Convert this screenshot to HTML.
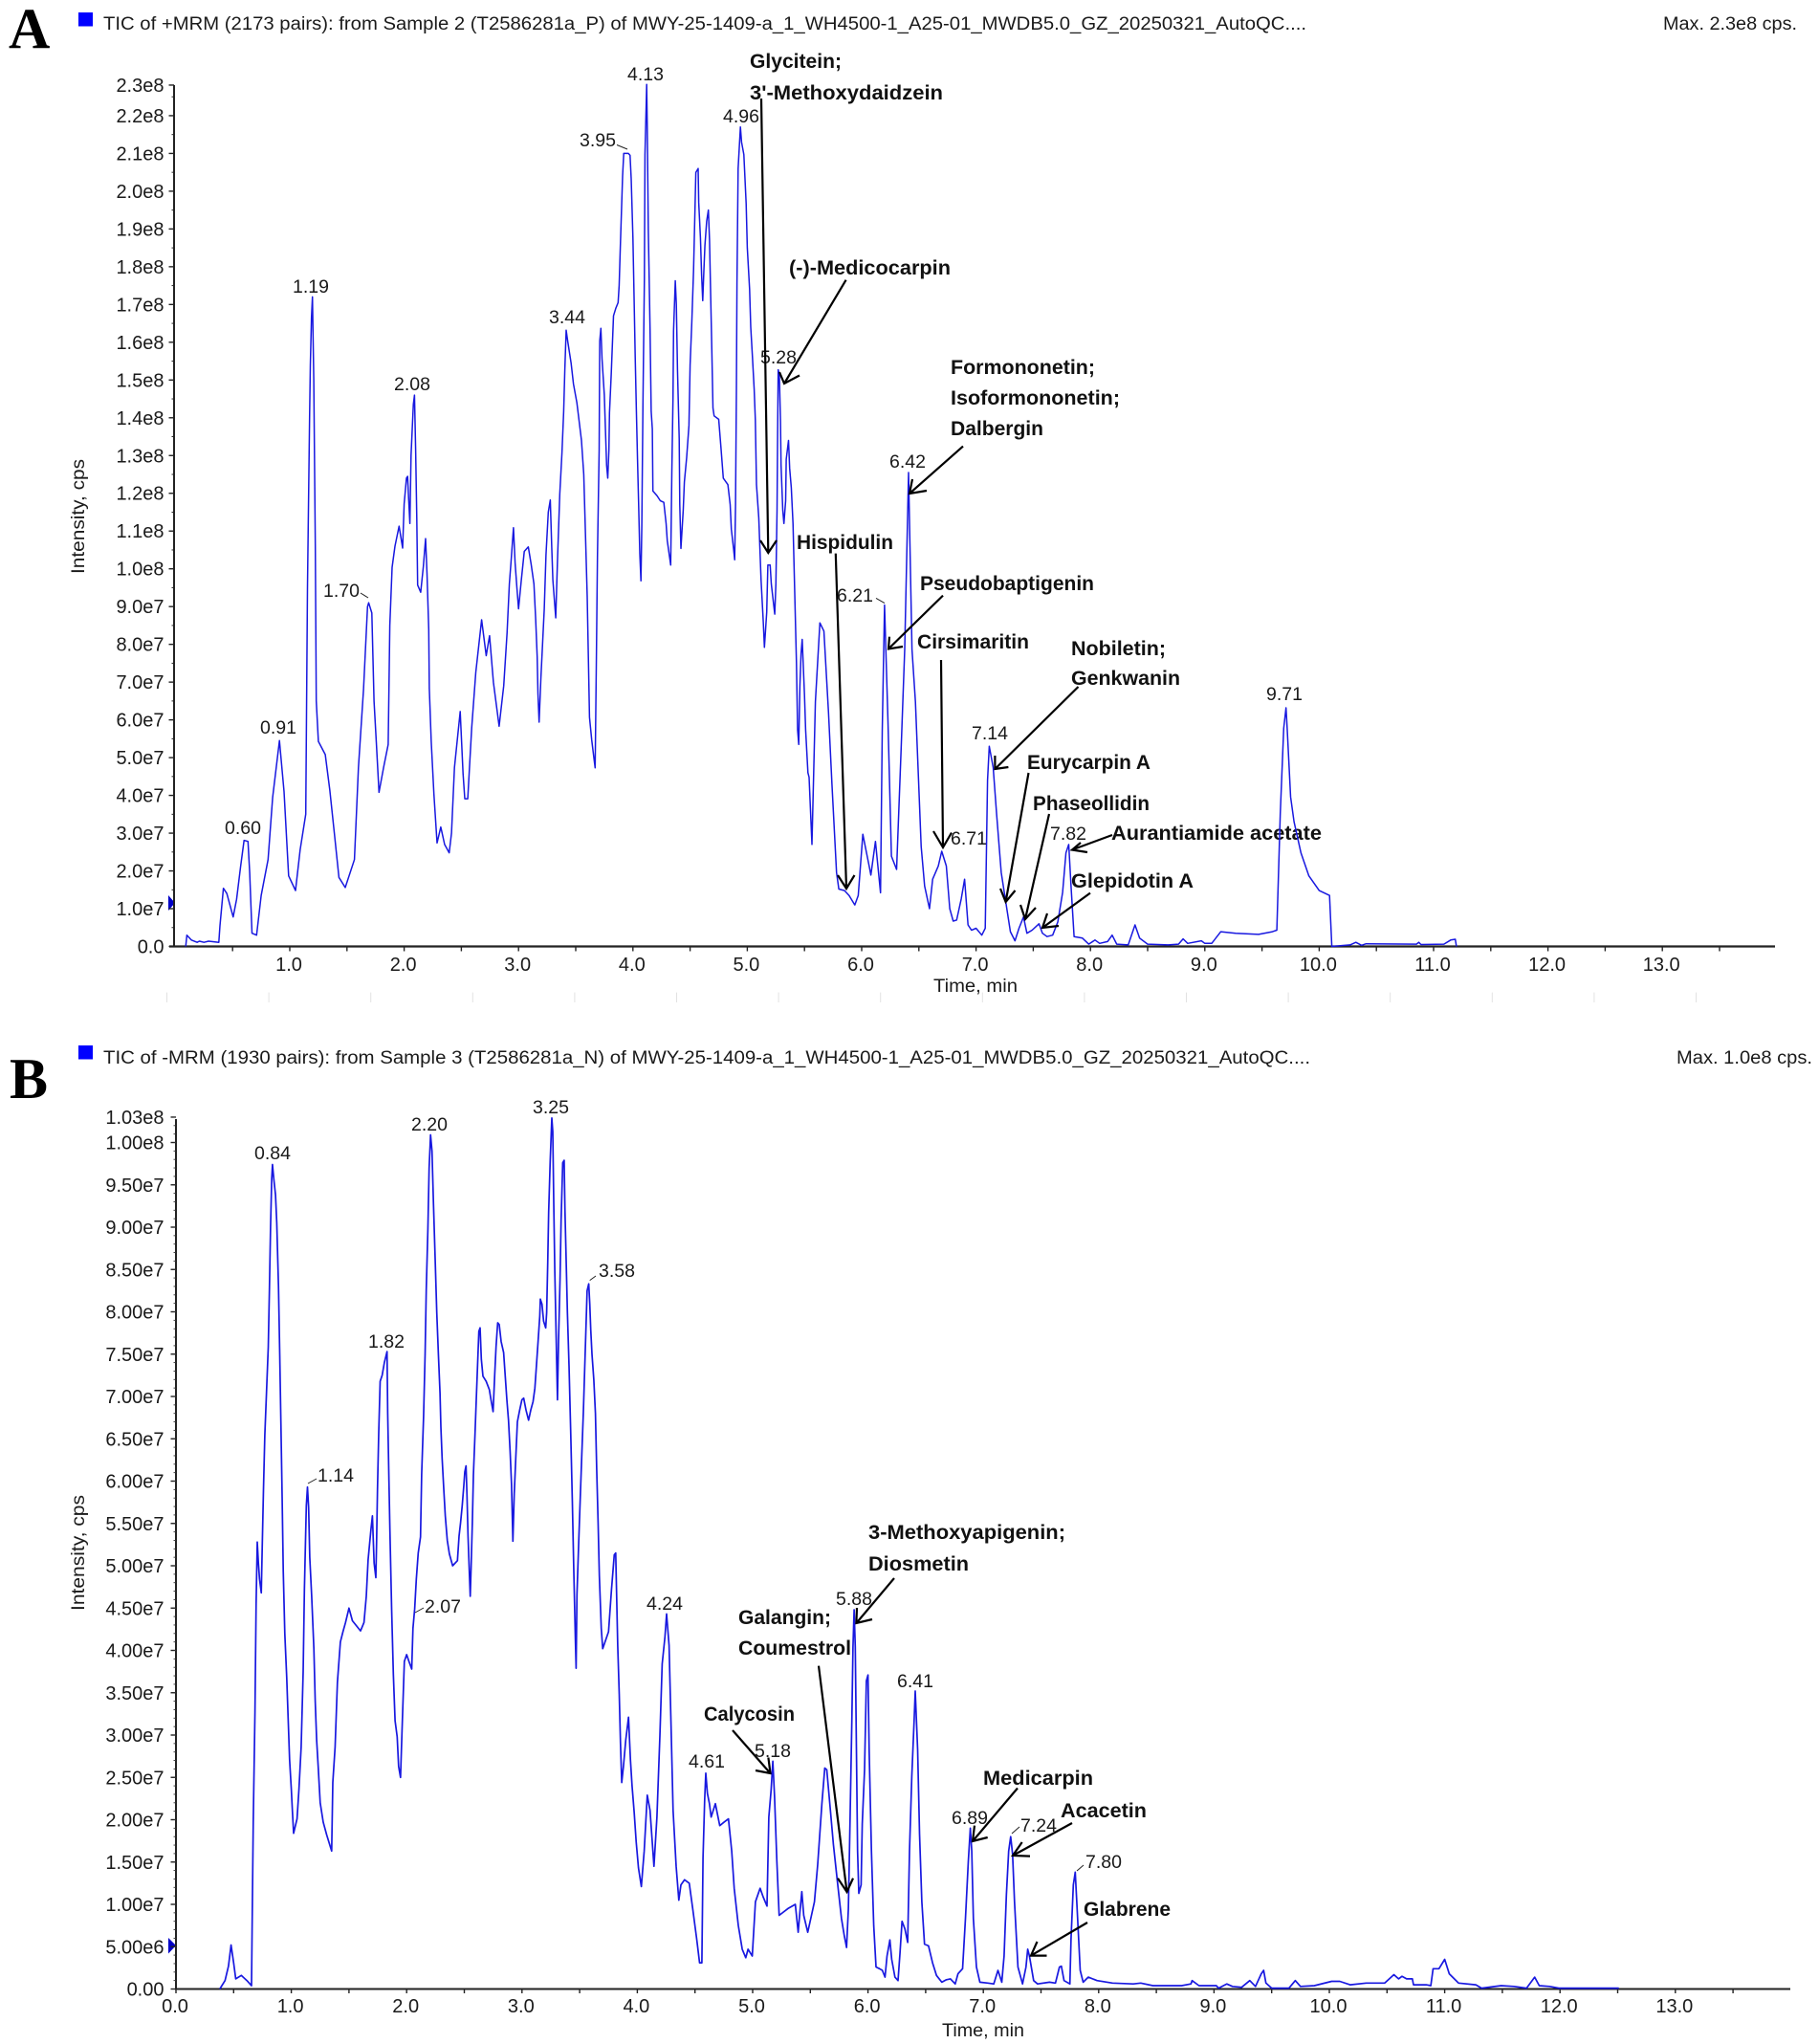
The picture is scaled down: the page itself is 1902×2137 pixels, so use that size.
<!DOCTYPE html>
<html lang="en">
<head>
<meta charset="utf-8">
<title>TIC chromatograms</title>
<style>
html,body{margin:0;padding:0;background:#fff;}
svg{display:block;}
text{font-family:"Liberation Sans",sans-serif;fill:#1a1a1a;}
.tick{font-size:20px;}
.peak{font-size:19.5px;text-anchor:middle;}
.cmp{font-size:21px;font-weight:bold;fill:#111;}
.head{font-size:19px;}
.arrow{fill:none;stroke:#000;stroke-width:2.2;}
.lead{fill:none;stroke:#222;stroke-width:1;}
.letter{font-family:"Liberation Serif",serif;font-weight:bold;font-size:60px;fill:#000;}
</style>
</head>
<body>
<svg id="chart" xmlns="http://www.w3.org/2000/svg" width="1902" height="2137" viewBox="0 0 1902 2137">
<rect x="0" y="0" width="1902" height="2137" fill="#fff"/>

<g id="panelA">
<text class="letter" x="9" y="50">A</text>
<rect x="82" y="13" width="15" height="14.5" fill="#0000ff"/>
<text class="head" x="108" y="31" textLength="1258" lengthAdjust="spacingAndGlyphs">TIC of +MRM (2173 pairs): from Sample 2 (T2586281a_P) of MWY-25-1409-a_1_WH4500-1_A25-01_MWDB5.0_GZ_20250321_AutoQC....</text>
<text class="head" x="1739" y="31" textLength="140" lengthAdjust="spacingAndGlyphs">Max. 2.3e8 cps.</text>
<text class="head" transform="translate(88,600) rotate(-90)" textLength="120" lengthAdjust="spacingAndGlyphs">Intensity, cps</text>
<text class="head" x="976" y="1037" textLength="88" lengthAdjust="spacingAndGlyphs">Time, min</text>
<polygon points="176,936 183,944 176,952" fill="#0000c8"/>

<g>
<text class="peak" x="254" y="872">0.60</text>
<text class="peak" x="291" y="767">0.91</text>
<text class="peak" x="325" y="306">1.19</text>
<text class="peak" x="357" y="624">1.70</text>
<text class="peak" x="431" y="408">2.08</text>
<text class="peak" x="593" y="338">3.44</text>
<text class="peak" x="625" y="153">3.95</text>
<text class="peak" x="675" y="84">4.13</text>
<text class="peak" x="775" y="128">4.96</text>
<text class="peak" x="814" y="380">5.28</text>
<text class="peak" x="894" y="629">6.21</text>
<text class="peak" x="949" y="489">6.42</text>
<text class="peak" x="1013" y="883">6.71</text>
<text class="peak" x="1035" y="773">7.14</text>
<text class="peak" x="1117" y="878">7.82</text>
<text class="peak" x="1343" y="732">9.71</text>
<path class="lead" d="M645 151.5L656 156M377 620L385 625M916 625.4L925 630.6"/>
</g>

<g>
<text class="cmp" x="784" y="71" textLength="96" lengthAdjust="spacingAndGlyphs">Glycitein;</text>
<text class="cmp" x="784" y="104" textLength="202" lengthAdjust="spacingAndGlyphs">3'-Methoxydaidzein</text>
<text class="cmp" x="825" y="287" textLength="169" lengthAdjust="spacingAndGlyphs">(-)-Medicocarpin</text>
<text class="cmp" x="994" y="391" textLength="151" lengthAdjust="spacingAndGlyphs">Formononetin;</text>
<text class="cmp" x="994" y="423" textLength="177" lengthAdjust="spacingAndGlyphs">Isoformononetin;</text>
<text class="cmp" x="994" y="455" textLength="97" lengthAdjust="spacingAndGlyphs">Dalbergin</text>
<text class="cmp" x="833" y="574" textLength="101" lengthAdjust="spacingAndGlyphs">Hispidulin</text>
<text class="cmp" x="962" y="617" textLength="182" lengthAdjust="spacingAndGlyphs">Pseudobaptigenin</text>
<text class="cmp" x="959" y="678" textLength="117" lengthAdjust="spacingAndGlyphs">Cirsimaritin</text>
<text class="cmp" x="1120" y="685" textLength="99" lengthAdjust="spacingAndGlyphs">Nobiletin;</text>
<text class="cmp" x="1120" y="716" textLength="114" lengthAdjust="spacingAndGlyphs">Genkwanin</text>
<text class="cmp" x="1074" y="804" textLength="129" lengthAdjust="spacingAndGlyphs">Eurycarpin A</text>
<text class="cmp" x="1080" y="847" textLength="122" lengthAdjust="spacingAndGlyphs">Phaseollidin</text>
<text class="cmp" x="1162" y="878" textLength="220" lengthAdjust="spacingAndGlyphs">Aurantiamide acetate</text>
<text class="cmp" x="1120" y="928" textLength="128" lengthAdjust="spacingAndGlyphs">Glepidotin A</text>
</g>
</g>

<g id="panelB">
<text class="letter" x="10" y="1148">B</text>
<rect x="82" y="1093" width="15" height="14.5" fill="#0000ff"/>
<text class="head" x="108" y="1112" textLength="1262" lengthAdjust="spacingAndGlyphs">TIC of -MRM (1930 pairs): from Sample 3 (T2586281a_N) of MWY-25-1409-a_1_WH4500-1_A25-01_MWDB5.0_GZ_20250321_AutoQC....</text>
<text class="head" x="1753" y="1112" textLength="142" lengthAdjust="spacingAndGlyphs">Max. 1.0e8 cps.</text>
<text class="head" transform="translate(88,1684) rotate(-90)" textLength="121" lengthAdjust="spacingAndGlyphs">Intensity, cps</text>
<text class="head" x="985" y="2129" textLength="86" lengthAdjust="spacingAndGlyphs">Time, min</text>
<polygon points="176,2026 184,2034 176,2042.5" fill="#0000c8"/>

<g>
<text class="peak" x="285" y="1212">0.84</text>
<text class="peak" x="351" y="1549">1.14</text>
<text class="peak" x="404" y="1409">1.82</text>
<text class="peak" x="463" y="1686">2.07</text>
<text class="peak" x="449" y="1182">2.20</text>
<text class="peak" x="576" y="1164">3.25</text>
<text class="peak" x="645" y="1335">3.58</text>
<text class="peak" x="695" y="1683">4.24</text>
<text class="peak" x="739" y="1848">4.61</text>
<text class="peak" x="808" y="1837">5.18</text>
<text class="peak" x="893" y="1678">5.88</text>
<text class="peak" x="957" y="1764">6.41</text>
<text class="peak" x="1014" y="1907">6.89</text>
<text class="peak" x="1086" y="1915">7.24</text>
<text class="peak" x="1154" y="1953">7.80</text>
<path class="lead" d="M616.7 1338.6L623 1334M434 1686L443 1681M322 1551L331 1546M1058 1917L1066 1910M1126 1956L1133 1950"/>
</g>

<g>
<text class="cmp" x="908" y="1609" textLength="206" lengthAdjust="spacingAndGlyphs">3-Methoxyapigenin;</text>
<text class="cmp" x="908" y="1642" textLength="105" lengthAdjust="spacingAndGlyphs">Diosmetin</text>
<text class="cmp" x="772" y="1698" textLength="97" lengthAdjust="spacingAndGlyphs">Galangin;</text>
<text class="cmp" x="772" y="1730" textLength="118" lengthAdjust="spacingAndGlyphs">Coumestrol</text>
<text class="cmp" x="736" y="1799" textLength="95" lengthAdjust="spacingAndGlyphs">Calycosin</text>
<text class="cmp" x="1028" y="1866" textLength="115" lengthAdjust="spacingAndGlyphs">Medicarpin</text>
<text class="cmp" x="1109" y="1900" textLength="90" lengthAdjust="spacingAndGlyphs">Acacetin</text>
<text class="cmp" x="1133" y="2003" textLength="91" lengthAdjust="spacingAndGlyphs">Glabrene</text>
</g>
</g>

<g id="series"></g>

<g>
<path class="arrow" d="M796 103L803.3 578M795 565L803.3 578L812 565"/>
<path class="arrow" d="M884.6 292.7L820 401M815 389L820 401L836 392.5"/>
<path class="arrow" d="M1007 466.6L951 516M954 501L951 516L969 513"/>
<path class="arrow" d="M873.8 578.6L885 929M876 915L885 929L893.5 915"/>
<path class="arrow" d="M986 622.6L929 678.4M930 665.7L929 678.4L944 676"/>
<path class="arrow" d="M984 690L986 886M976 869L986 886L995 870.6"/>
<path class="arrow" d="M1127.5 718L1040.4 804M1040.4 790L1040.4 804L1054.4 802"/>
<path class="arrow" d="M1075.5 808L1051.6 943M1046 929L1051.6 943L1061.5 931"/>
<path class="arrow" d="M1097 851L1072 961M1067 946L1072 961L1083 949"/>
<path class="arrow" d="M1163 873L1121 888.5M1130 881L1121 888.5L1137 891"/>
<path class="arrow" d="M1140 933.6L1090 970M1095 955L1090 970L1107 968"/>
<path class="arrow" d="M935 1650L895.4 1697M896 1681L895.4 1697L912 1693"/>
<path class="arrow" d="M856 1741.6L885.5 1978M876 1963.7L885.5 1978L892 1963.7"/>
<path class="arrow" d="M766 1809L805.5 1854M790 1851L805.5 1854L803.4 1837.5"/>
<path class="arrow" d="M1064 1869.5L1017 1925M1019 1908.6L1017 1925L1032.7 1921"/>
<path class="arrow" d="M1121 1906L1059 1940M1068.7 1926L1059 1940L1077 1940.6"/>
<path class="arrow" d="M1137 2010L1078 2044.6M1084.5 2030L1078 2044.6L1094.5 2044.6"/>
</g>
</svg>

<script>
// Panel A — positive-mode TIC. Times in minutes, intensity in units of 1e7 cps.
var aTimes = [
0.09,0.10,0.14,0.19,0.21,0.25,0.29,0.38,0.39,0.42,
0.45,0.505,0.535,0.57,0.60,0.635,0.65,0.67,0.71,0.75,
0.81,0.85,0.91,0.95,0.99,1.05,1.09,1.14,1.155,1.173,
1.18,1.19,1.198,1.21,1.223,1.232,1.25,1.31,1.35,1.39,
1.43,1.485,1.565,1.6,1.645,1.68,1.69,1.717,1.737,1.757,
1.78,1.82,1.86,1.875,1.895,1.92,1.956,1.987,2.0,2.02,
2.03,2.037,2.05,2.06,2.08,2.09,2.10,2.11,2.118,2.145,
2.168,2.187,2.2,2.215,2.22,2.237,2.26,2.288,2.32,2.354,
2.394,2.414,2.44,2.49,2.515,2.53,2.556,2.59,2.626,2.677,
2.717,2.747,2.78,2.83,2.87,2.9,2.92,2.935,2.956,2.97,
2.985,3.0,3.024,3.05,3.085,3.11,3.135,3.15,3.163,3.17,
3.18,3.196,3.21,3.225,3.24,3.26,3.278,3.29,3.3,3.325,
3.34,3.36,3.38,3.395,3.405,3.416,3.43,3.46,3.48,3.51,
3.53,3.55,3.57,3.585,3.6,3.61,3.62,3.64,3.66,3.67,
3.68,3.69,3.705,3.71,3.72,3.73,3.75,3.76,3.77,3.78,
3.79,3.795,3.81,3.83,3.85,3.87,3.88,3.89,3.9,3.91,
3.92,3.96,3.975,3.985,4.0,4.01,4.02,4.03,4.04,4.05,
4.06,4.07,4.078,4.088,4.1,4.105,4.12,4.125,4.135,4.15,
4.16,4.17,4.175,4.21,4.24,4.27,4.29,4.3,4.33,4.34,
4.35,4.355,4.37,4.38,4.39,4.405,4.41,4.42,4.44,4.45,
4.47,4.49,4.5,4.515,4.53,4.54,4.55,4.57,4.575,4.59,
4.6,4.61,4.62,4.63,4.645,4.66,4.67,4.68,4.69,4.7,
4.71,4.75,4.77,4.79,4.83,4.85,4.86,4.88,4.89,4.897,
4.905,4.91,4.92,4.94,4.95,4.97,4.99,5.0,5.02,5.03,
5.045,5.06,5.07,5.08,5.1,5.12,5.14,5.15,5.17,5.18,
5.2,5.21,5.24,5.25,5.26,5.265,5.27,5.28,5.29,5.295,
5.31,5.32,5.335,5.34,5.36,5.37,5.385,5.4,5.415,5.43,
5.44,5.45,5.46,5.47,5.48,5.5,5.51,5.53,5.54,5.565,
5.595,5.635,5.67,5.71,5.74,5.78,5.8,5.85,5.89,5.94,
5.97,6.01,6.065,6.08,6.12,6.165,6.18,6.2,6.23,6.26,
6.305,6.345,6.376,6.41,6.44,6.47,6.52,6.55,6.593,6.62,
6.67,6.7,6.74,6.77,6.8,6.83,6.87,6.9,6.93,6.96,
7.0,7.05,7.08,7.1,7.115,7.15,7.18,7.22,7.26,7.3,
7.34,7.375,7.415,7.445,7.49,7.55,7.58,7.62,7.67,7.715,
7.757,7.786,7.81,7.83,7.857,7.93,7.985,8.04,8.08,8.15,
8.19,8.23,8.33,8.39,8.43,8.5,8.68,8.77,8.81,8.85,
8.97,9.0,9.06,9.14,9.27,9.47,9.59,9.63,9.66,9.69,
9.71,9.72,9.75,9.78,9.84,9.91,10.0,10.09,10.11,10.27,
10.32,10.37,10.41,10.85,10.87,10.89,11.09,11.15,11.19,11.2
];
var aIntensity = [
0,0.3,0.17,0.11,0.14,0.11,0.14,0.11,0.55,1.54,
1.4,0.78,1.25,2.12,2.81,2.78,1.95,0.35,0.3,1.35,
2.3,3.95,5.45,4.1,1.87,1.48,2.55,3.5,9.5,14,
15.4,16.66,17.2,15,10.6,6.5,5.43,5.08,4.13,3,
1.83,1.56,2.3,4.74,6.8,9,9.1,8.83,6.5,5.4,
4.08,4.74,5.35,8.5,10.04,10.6,11.13,10.55,11.72,12.4,
12.45,12,11.2,13,14.35,14.6,13.16,11.34,9.57,9.38,
10.07,10.8,9.87,8.4,6.83,5.43,4.04,2.74,3.16,2.7,
2.48,3,4.74,6.22,4.57,3.91,3.91,5.78,7.26,8.65,
7.7,8.23,7.0,5.83,6.9,8.3,9.6,10.2,11.09,10.16,
9.53,8.94,9.7,10.46,10.58,10.12,9.6,8.68,7.67,6.7,
5.94,7.12,8.0,8.94,10.37,11.5,11.82,10.58,9.7,8.7,
10.2,11.97,13.07,14.17,15.27,16.32,16.03,15.44,14.9,14.4,
13.9,13.4,12.5,10.9,9.27,7.67,6.07,5.47,4.97,4.73,
7.4,10.3,13.15,16.03,16.37,15.56,14.6,13.67,12.74,12.4,
13.15,14.13,15.14,16.7,16.9,17.05,17.5,18.5,19.45,20.4,
21,21,20.95,20.33,18.77,17.2,15.6,14.2,12.9,11.68,
10.4,9.68,11.13,14.4,17.7,20.97,22.83,21.7,18.98,16.37,
14.17,13.7,12.06,11.94,11.8,11.76,11.2,10.75,10.1,12.57,
14.5,16.3,17.63,17,15.27,13.45,11.7,10.54,11.55,12.3,
12.95,13.8,15.4,16.55,17.9,19.2,20.5,20.6,19.7,18.77,
17.8,17.1,17.9,18.57,19.2,19.5,18.7,17.25,15.8,14.26,
14.05,13.96,13.2,12.4,12.23,11.7,11.05,10.54,10.24,11.7,
14.7,17.55,20.6,21.7,21.3,20.97,19.67,18.5,17.4,16.4,
15.6,14.75,13.95,12.23,11.35,9.7,8.6,7.92,8.85,10.1,
10.1,9.6,8.8,9.6,11.55,13.6,15.27,15.14,13.9,12.74,
11.55,11.2,11.8,12.9,13.4,12.66,12.15,11.2,9.36,7.5,
5.73,5.35,6.9,7.75,8.13,6.66,5.73,4.6,4.48,2.7,
6.48,8.57,8.35,6.2,4.3,1.96,1.52,1.48,1.35,1.1,
1.35,2.97,2.13,1.89,2.78,1.42,5.7,9.04,5.96,2.39,
2.04,5.26,7.87,12.55,7.87,6.48,2.65,1.6,1,1.78,
2.13,2.52,2.13,1,0.67,0.7,1.26,1.78,0.57,0.43,
0.48,0.3,0.48,4.4,5.3,4.74,3.5,1.96,1.17,0.39,
0.15,0.48,0.78,0.35,0.43,0.6,0.35,0.26,0.3,0.65,
1.43,2.48,2.7,1.6,0.26,0.22,0.06,0.17,0.08,0.13,
0.3,0.06,0.04,0.57,0.22,0.06,0.04,0.06,0.2,0.08,
0.15,0.08,0.08,0.39,0.35,0.32,0.39,0.43,3.52,5.78,
6.32,5.78,3.96,3.3,2.48,1.87,1.48,1.35,0,0.04,
0.11,0.03,0.07,0.06,0.11,0.05,0.06,0.17,0.19,0
];

// Panel B — negative-mode TIC. Times in minutes, intensity in units of 1e7 cps.
var bTimes = [
0.38,0.425,0.455,0.478,0.5,0.518,0.566,0.615,0.655,0.66,
0.67,0.685,0.695,0.705,0.715,0.725,0.74,0.748,0.759,0.77,
0.785,0.8,0.81,0.82,0.83,0.837,0.848,0.863,0.874,0.889,
0.9,0.91,0.92,0.93,0.944,0.96,0.974,0.985,1.0,1.01,
1.02,1.05,1.066,1.085,1.103,1.114,1.125,1.13,1.14,1.15,
1.16,1.177,1.196,1.207,1.22,1.233,1.25,1.277,1.307,1.35,
1.36,1.38,1.4,1.425,1.448,1.47,1.5,1.53,1.6,1.63,
1.65,1.666,1.69,1.703,1.718,1.733,1.74,1.747,1.758,1.77,
1.788,1.807,1.83,1.836,1.847,1.855,1.87,1.885,1.9,1.918,
1.93,1.947,1.96,1.98,2.0,2.02,2.044,2.055,2.07,2.084,
2.1,2.12,2.13,2.147,2.16,2.17,2.184,2.195,2.207,2.22,
2.233,2.247,2.261,2.275,2.289,2.297,2.308,2.322,2.335,2.352,
2.371,2.399,2.44,2.454,2.468,2.482,2.496,2.504,2.515,2.523,
2.532,2.543,2.551,2.559,2.57,2.579,2.593,2.604,2.615,2.626,
2.637,2.648,2.662,2.689,2.717,2.731,2.75,2.764,2.775,2.789,
2.803,2.819,2.841,2.855,2.869,2.883,2.897,2.91,2.921,2.933,
2.946,2.96,2.98,2.999,3.015,3.035,3.057,3.076,3.096,3.112,
3.126,3.14,3.154,3.159,3.173,3.187,3.206,3.214,3.223,3.231,
3.245,3.259,3.267,3.275,3.284,3.297,3.308,3.317,3.33,3.339,
3.353,3.366,3.372,3.383,3.394,3.408,3.422,3.436,3.449,3.463,
3.469,3.477,3.491,3.505,3.519,3.532,3.543,3.554,3.565,3.579,
3.588,3.596,3.607,3.623,3.637,3.648,3.66,3.671,3.687,3.70,
3.75,3.776,3.8,3.813,3.83,3.843,3.854,3.865,3.88,3.9,
3.924,3.94,3.954,3.973,3.99,4.01,4.035,4.06,4.086,4.11,
4.144,4.17,4.196,4.216,4.24,4.254,4.275,4.29,4.31,4.337,
4.36,4.378,4.41,4.45,4.48,4.515,4.54,4.56,4.57,4.584,
4.594,4.608,4.625,4.64,4.677,4.715,4.75,4.79,4.818,4.84,
4.876,4.91,4.94,4.96,4.997,5.024,5.065,5.09,5.124,5.14,
5.16,5.175,5.19,5.21,5.23,5.306,5.37,5.395,5.41,5.426,
5.443,5.478,5.51,5.536,5.564,5.6,5.625,5.643,5.674,5.7,
5.735,5.77,5.794,5.814,5.83,5.845,5.86,5.87,5.88,5.89,
5.9,5.91,5.92,5.94,5.95,5.97,5.986,6.0,6.01,6.03,
6.05,6.07,6.1,6.124,6.148,6.165,6.19,6.206,6.234,6.26,
6.278,6.295,6.32,6.344,6.36,6.38,6.4,6.41,6.43,6.447,
6.467,6.49,6.525,6.56,6.594,6.64,6.68,6.715,6.756,6.78,
6.82,6.845,6.87,6.887,6.9,6.914,6.94,6.97,7.04,7.09,
7.127,7.16,7.18,7.2,7.22,7.237,7.254,7.27,7.3,7.34,
7.37,7.385,7.4,7.436,7.47,7.574,7.625,7.66,7.677,7.7,
7.75,7.76,7.78,7.797,7.81,7.84,7.866,7.91,7.986,8.12,
8.3,8.365,8.47,8.72,8.8,8.81,8.87,9.02,9.04,9.11,
9.16,9.24,9.31,9.36,9.41,9.43,9.45,9.5,9.65,9.705,
9.75,9.87,10.02,10.09,10.18,10.32,10.48,10.56,10.6,10.63,
10.67,10.72,10.73,10.84,10.88,10.9,10.95,11.0,11.04,11.12,
11.27,11.32,11.49,11.6,11.71,11.78,11.82,11.91,11.99,12.51
];
var bIntensity = [
0,0.1,0.27,0.52,0.31,0.12,0.16,0.1,0.04,0.7,
1.97,3.27,4.55,5.28,5.03,4.84,4.68,5.22,5.9,6.54,
7.06,7.58,8.26,9,9.57,9.74,9.57,9.38,9.05,8.3,
7.5,6.7,5.82,4.93,4.2,3.68,3.13,2.71,2.36,2.09,
1.84,2.01,2.36,2.86,3.75,4.72,5.42,5.71,5.93,5.69,
5.1,4.64,4.02,3.4,2.94,2.63,2.2,1.97,1.82,1.63,
2.44,2.86,3.62,4.1,4.22,4.33,4.5,4.35,4.23,4.33,
4.64,5.07,5.42,5.59,5.03,4.86,5.3,5.9,6.57,7.18,
7.25,7.4,7.53,6.8,6.0,5.42,4.49,3.72,3.17,2.98,
2.63,2.5,3.06,3.87,3.95,3.87,3.78,4.26,4.49,4.84,
5.15,5.34,6.08,6.76,7.5,8.26,8.97,9.7,10.09,9.9,
9.26,8.63,7.99,7.5,7.04,6.64,6.27,5.91,5.59,5.3,
5.14,5.0,5.06,5.35,5.51,5.71,5.95,6.11,6.18,5.83,
5.35,4.94,4.64,4.98,5.51,6.07,6.56,6.96,7.38,7.77,
7.81,7.44,7.24,7.18,7.08,6.96,6.82,7.26,7.59,7.87,
7.85,7.65,7.52,7.24,6.96,6.72,6.35,5.95,5.29,5.85,
6.27,6.7,6.84,6.96,6.98,6.84,6.72,6.84,6.94,7.1,
7.38,7.66,7.95,8.15,8.09,7.89,7.81,7.99,8.57,9.18,
9.78,10.29,10.13,9.3,8.49,7.67,6.96,7.65,8.39,9.08,
9.76,9.79,9.22,8.61,7.99,7.36,6.6,5.79,4.98,4.14,
3.79,4.66,5.24,5.79,6.33,6.82,7.3,7.77,8.25,8.33,
8.09,7.79,7.5,7.2,6.8,6.15,5.51,4.88,4.26,4.02,
4.22,4.72,5.13,5.15,4.06,3.48,2.9,2.44,2.63,2.94,
3.21,2.71,2.4,2.09,1.74,1.43,1.21,1.63,2.29,2.11,
1.45,2.03,2.99,3.84,4.16,4.43,4.06,3.24,2.11,1.45,
1.05,1.23,1.29,1.25,0.95,0.59,0.31,0.31,1.55,2.23,
2.55,2.31,2.19,2.03,2.19,1.93,1.97,2.01,1.63,1.19,
0.75,0.47,0.37,0.47,0.39,1.03,1.19,1.09,0.98,2.03,
2.35,2.69,2.27,1.51,0.87,0.95,1.0,0.67,0.91,1.15,
0.87,0.67,0.87,1.03,1.47,2.19,2.61,2.59,2.11,1.71,
1.27,0.83,0.63,0.49,0.95,2.03,3.16,4.04,4.48,4.04,
2.83,1.63,1.13,1.23,1.95,2.59,3.64,3.71,2.83,1.63,
0.75,0.26,0.24,0.22,0.14,0.39,0.58,0.35,0.14,0.1,
0.43,0.8,0.71,0.55,1.63,2.51,3.16,3.52,2.83,1.83,
1.03,0.53,0.51,0.31,0.16,0.08,0.11,0.12,0.06,0.18,
0.24,0.83,1.51,1.9,1.63,0.83,0.26,0.08,0.07,0.06,
0.22,0.08,0.39,1.11,1.63,1.8,1.59,1.03,0.26,0.06,
0.26,0.47,0.39,0.1,0.06,0.08,0.07,0.26,0.27,0.1,
0.06,0.59,1.23,1.38,1.03,0.22,0.08,0.14,0.1,0.07,
0.06,0.07,0.04,0.04,0.06,0.1,0.04,0.04,0.01,0.06,
0.03,0.02,0.1,0.03,0.18,0.22,0.07,0.01,0.01,0.1,
0.03,0.04,0.09,0.09,0.05,0.07,0.07,0.17,0.12,0.15,
0.12,0.12,0.05,0.05,0.04,0.24,0.24,0.35,0.18,0.07,
0.05,0.01,0.04,0.03,0.01,0.14,0.04,0.03,0.01,0.01
];

// Axis tick values (time in minutes, intensity in 1e7 cps) and printed labels.
var aXTickValues = [0.5,1,1.5,2,2.5,3,3.5,4,4.5,5,5.5,6,6.5,7,7.5,8,8.5,9,9.5,10,10.5,11,11.5,12,12.5,13,13.5];
var aXLabelValues = [1,2,3,4,5,6,7,8,9,10,11,12,13];
var aXLabels = ["1.0","2.0","3.0","4.0","5.0","6.0","7.0","8.0","9.0","10.0","11.0","12.0","13.0"];
var aYLabelValues = [0,1,2,3,4,5,6,7,8,9,10,11,12,13,14,15,16,17,18,19,20,21,22,22.81];
var aYLabels = ["0.0","1.0e7","2.0e7","3.0e7","4.0e7","5.0e7","6.0e7","7.0e7","8.0e7","9.0e7","1.0e8","1.1e8","1.2e8","1.3e8","1.4e8","1.5e8","1.6e8","1.7e8","1.8e8","1.9e8","2.0e8","2.1e8","2.2e8","2.3e8"];
var bXTickValues = [0,0.5,1,1.5,2,2.5,3,3.5,4,4.5,5,5.5,6,6.5,7,7.5,8,8.5,9,9.5,10,10.5,11,11.5,12,12.5,13,13.5];
var bXLabelValues = [0,1,2,3,4,5,6,7,8,9,10,11,12,13];
var bXLabels = ["0.0","1.0","2.0","3.0","4.0","5.0","6.0","7.0","8.0","9.0","10.0","11.0","12.0","13.0"];
var bYLabelValues = [0,0.5,1,1.5,2,2.5,3,3.5,4,4.5,5,5.5,6,6.5,7,7.5,8,8.5,9,9.5,10,10.3];
var bYLabels = ["0.00","5.00e6","1.00e7","1.50e7","2.00e7","2.50e7","3.00e7","3.50e7","4.00e7","4.50e7","5.00e7","5.50e7","6.00e7","6.50e7","7.00e7","7.50e7","8.00e7","8.50e7","9.00e7","9.50e7","1.00e8","1.03e8"];

var NS = "http://www.w3.org/2000/svg";
var root = document.getElementById("series");

function ax(t){ return 183.4 + 119.6 * t; }
function ay(v){ return 989.5 - 39.48 * v; }
function bx(t){ return 184 + 120.6 * t; }
function by(v){ return 2079.5 - 88.5 * v; }

function line(x1, y1, x2, y2, color, width){
  var el = document.createElementNS(NS, "line");
  el.setAttribute("x1", x1);
  el.setAttribute("y1", y1);
  el.setAttribute("x2", x2);
  el.setAttribute("y2", y2);
  el.setAttribute("stroke", color);
  el.setAttribute("stroke-width", width);
  
  
  root.appendChild(el);
  return el;
}
function tickText(x, y, str, anchor){
  var el = document.createElementNS(NS, "text");
  el.setAttribute("x", x);
  el.setAttribute("y", y);
  el.setAttribute("class", "tick");
  el.setAttribute("text-anchor", anchor);
  
  
  el.textContent = str;
  root.appendChild(el);
}
function trace(times, values, fx, fy, name, width){
  var d = "";
  for (var i = 0; i < times.length; i++) {
    d += (i ? "L" : "M") + fx(times[i]).toFixed(1) + " " + fy(values[i]).toFixed(1);
  }
  var el = document.createElementNS(NS, "path");
  el.setAttribute("d", d);
  el.setAttribute("fill", "none");
  el.setAttribute("stroke", "#1818e0");
  el.setAttribute("stroke-width", width);
  el.setAttribute("stroke-linejoin", "round");
  
  
  root.appendChild(el);
}

var i, k;
// Panel A axes
line(182, 89, 182, 990.5, "#222", 2);
line(177, 989.5, 1856, 989.5, "#222", 2.2);
for (i = 0; i < aXTickValues.length; i++) line(ax(aXTickValues[i]), 990, ax(aXTickValues[i]), 994.5, "#222", 1.4);
for (i = 0; i < aXLabelValues.length; i++) tickText(ax(aXLabelValues[i]) - 1, 1015, aXLabels[i], "middle");
for (i = 0; i < aYLabelValues.length; i++) {
  line(176.5, ay(aYLabelValues[i]), 182, ay(aYLabelValues[i]), "#222", 1.4);
  tickText(171.5, ay(aYLabelValues[i]) + 7, aYLabels[i], "end");
}
for (k = 0.5; k < 22.8; k += 1) line(179.5, ay(k), 182, ay(k), "#222", 1);
for (i = 0; i < 16; i++) line(174.5 + 106.6 * i, 1037.6, 174.5 + 106.6 * i, 1048, "#e2e2e2", 1);

// Panel B axes
line(184, 1170, 184, 2080.5, "#222", 2);
line(184, 2079.5, 1872, 2079.5, "#222", 2);
for (i = 0; i < bXTickValues.length; i++) line(bx(bXTickValues[i]), 2080, bx(bXTickValues[i]), 2084, "#222", 1.4);
for (i = 0; i < bXLabelValues.length; i++) tickText(bx(bXLabelValues[i]) - 1, 2104, bXLabels[i], "middle");
for (i = 0; i < bYLabelValues.length; i++) {
  line(178.5, by(bYLabelValues[i]), 184, by(bYLabelValues[i]), "#222", 1.4);
  tickText(171.5, by(bYLabelValues[i]) + 7, bYLabels[i], "end");
}
for (k = 0.1; k < 10.3; k += 0.1) line(181.5, by(k), 184, by(k), "#333", 0.9);

// Traces
trace(aTimes, aIntensity, ax, ay, "panel-a-tic-trace", 1.5);
trace(bTimes, bIntensity, bx, by, "panel-b-tic-trace", 1.7);
</script>
</body>
</html>
